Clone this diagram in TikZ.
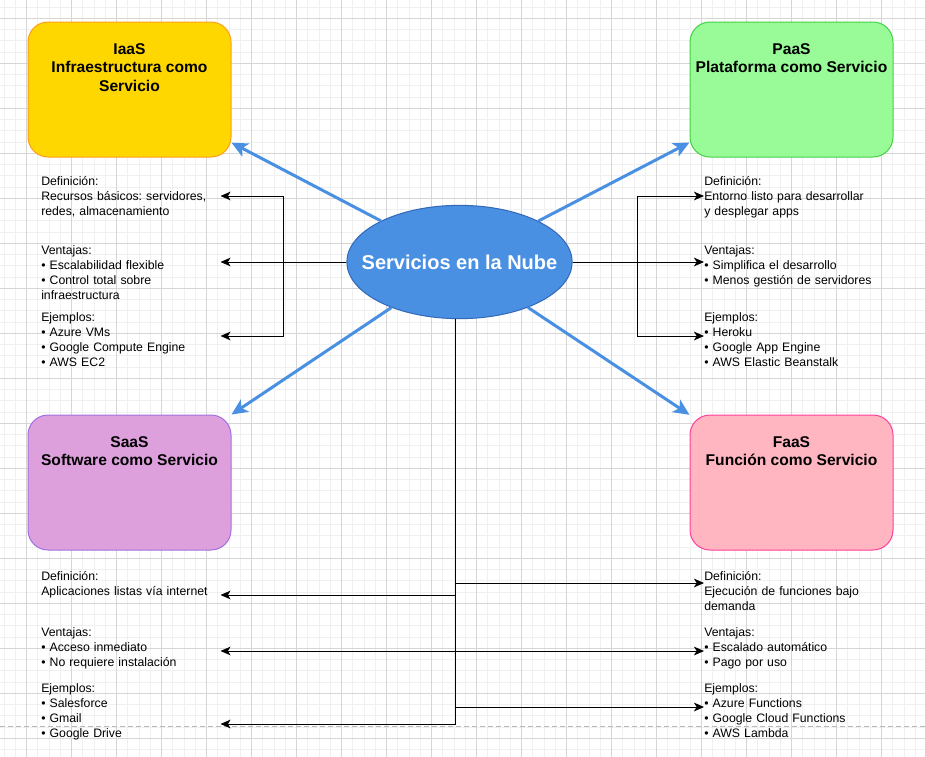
\documentclass[tikz,border=0pt]{standalone}
\usepackage{fontspec}
\setmainfont{Liberation Sans}
\usepackage{tikz}
\usetikzlibrary{arrows.meta, positioning, shapes.geometric}
\frenchspacing
\definecolor{gridmin}{HTML}{F0F0F0}
\definecolor{gridmaj}{HTML}{D6D6D6}
\definecolor{pagebrk}{HTML}{B8B8B8}
\definecolor{cloudblue}{HTML}{4A90E2}
\definecolor{cloudline}{HTML}{3367B8}
\definecolor{iaasfill}{HTML}{FFD700}
\definecolor{iaasline}{HTML}{FF9E1B}
\definecolor{paasfill}{HTML}{98FB98}
\definecolor{paasline}{HTML}{44D144}
\definecolor{saasfill}{HTML}{DDA0DD}
\definecolor{saasline}{HTML}{A070E0}
\definecolor{faasfill}{HTML}{FFB6C1}
\definecolor{faasline}{HTML}{FF3D9A}
\def\boxW{152.25pt}
\def\boxH{101.25pt}
\def\gridX{26.5}
\def\gridY{18.3}

\begin{document}
\begin{tikzpicture}[
    x=0.75pt, y=-0.75pt,
    svcbox/.style={draw, line width=0.75pt, rounded corners=15pt,
        minimum width=\boxW, minimum height=\boxH},
    boxtitle/.style={font=\bfseries\fontsize{11.7}{13.75}\selectfont,
        align=center, inner sep=0pt},
    info/.style={font=\fontsize{9.2}{11.25}\selectfont, align=left,
        text width=134.25pt, inner sep=0pt, anchor=north west},
    flow/.style={draw=cloudblue, line width=2.25pt,
        -{Stealth[length=12pt,width=11pt,inset=3pt]}},
    conn/.style={line width=0.75pt,
        -{Stealth[length=7.5pt,width=6.5pt,inset=2pt]}}
]
\useasboundingbox (0,0) rectangle (925,757);

% background grid
\foreach \i in {-2,...,80}
    \draw[gridmin, line width=0.75pt] ({\gridX+11.25*\i},0) -- ({\gridX+11.25*\i},757);
\foreach \i in {-1,...,66}
    \draw[gridmin, line width=0.75pt] (0,{\gridY+11.25*\i}) -- (925,{\gridY+11.25*\i});
\foreach \i in {0,...,20}
    \draw[gridmaj, line width=0.75pt] ({\gridX+45*\i},0) -- ({\gridX+45*\i},757);
\foreach \i in {0,...,16}
    \draw[gridmaj, line width=0.75pt] (0,{\gridY+45*\i}) -- (925,{\gridY+45*\i});
\draw[pagebrk, line width=0.75pt, dash pattern=on 3.75pt off 2.25pt] (0,726) -- (925,726);

% centre
\node[ellipse, draw=cloudline, fill=cloudblue, line width=0.75pt,
    minimum width=169pt, minimum height=85pt, inner sep=0pt, text=white,
    font=\bfseries\fontsize{15}{18}\selectfont] (cloud) at (459.5,262) {\makebox[0pt]{Servicios en la Nube}};

% service boxes
\node[svcbox, fill=iaasfill, draw=iaasline] (iaas) at (129.5,89.5) {};
\node[svcbox, fill=paasfill, draw=paasline] (paas) at (791.5,89.5) {};
\node[svcbox, fill=saasfill, draw=saasline] (saas) at (129.5,482.5) {};
\node[svcbox, fill=faasfill, draw=faasline] (faas) at (791.5,482.5) {};
\node[boxtitle, below=16.5pt of iaas.north] (iaast) {IaaS\\Infraestructura como\\Servicio};
\node[boxtitle, below=16.5pt of paas.north] (paast) {PaaS\\Plataforma como Servicio};
\node[boxtitle, below=16.5pt of saas.north] (saast) {SaaS\\Software como Servicio};
\node[boxtitle, below=16.5pt of faas.north] (faast) {FaaS\\Función como Servicio};

\draw[flow] (cloud) -- (iaas);
\draw[flow] (cloud) -- (paas);
\draw[flow] (cloud) -- (saas);
\draw[flow] (cloud) -- (faas);

% details
\node[info] (iaasdef) at (41,176) {Definición:\\Recursos básicos: servidores,\\redes, almacenamiento};
\node[info] (iaasven) at (41,245) {Ventajas:\\• Escalabilidad flexible\\• Control total sobre\\infraestructura};
\node[info] (iaaseje) at (41,312) {Ejemplos:\\• Azure VMs\\• Google Compute Engine\\• AWS EC2};
\node[info] (paasdef) at (704,176) {Definición:\\Entorno listo para desarrollar\\y desplegar apps};
\node[info] (paasven) at (704,245) {Ventajas:\\• Simplifica el desarrollo\\• Menos gestión de servidores};
\node[info] (paaseje) at (704,312) {Ejemplos:\\• Heroku\\• Google App Engine\\• AWS Elastic Beanstalk};
\node[info] (saasdef) at (41,571) {Definición:\\Aplicaciones listas vía internet};
\node[info] (saasven) at (41,627) {Ventajas:\\• Acceso inmediato\\• No requiere instalación};
\node[info] (saaseje) at (41,683) {Ejemplos:\\• Salesforce\\• Gmail\\• Google Drive};
\node[info] (faasdef) at (704,571) {Definición:\\Ejecución de funciones bajo\\demanda};
\node[info] (faasven) at (704,627) {Ventajas:\\• Escalado automático\\• Pago por uso};
\node[info] (faaseje) at (704,683) {Ejemplos:\\• Azure Functions\\• Google Cloud Functions\\• AWS Lambda};

\coordinate (jl) at (cloud.west -| 283,0);
\coordinate (jr) at (cloud.east -| 637,0);
\coordinate (trunk) at ([xshift=-3pt]cloud.south);

\draw[conn] (cloud.west) -- (jl) |- (iaasdef.east |- 0,196);
\draw[conn] (cloud.west) -- (cloud.west -| iaasven.east);
\draw[conn] (cloud.west) -- (jl) |- (iaaseje.east |- 0,336);
\draw[conn] (cloud.east) -- (jr) |- (paasdef.west |- 0,196);
\draw[conn] (cloud.east) -- (cloud.east -| paasven.west);
\draw[conn] (cloud.east) -- (jr) |- (paaseje.west |- 0,336);

\draw[conn] (trunk) |- (faasdef.west |- 0,583);
\draw[conn] (trunk) |- (saasdef.east |- 0,595);
\draw[conn] (trunk) |- (saasven.east |- 0,651);
\draw[conn] (trunk) |- (faasven.west |- 0,651);
\draw[conn] (trunk) |- (faaseje.west |- 0,707);
\draw[conn] (trunk) |- (saaseje.east |- 0,724);
\end{tikzpicture}
\end{document}
